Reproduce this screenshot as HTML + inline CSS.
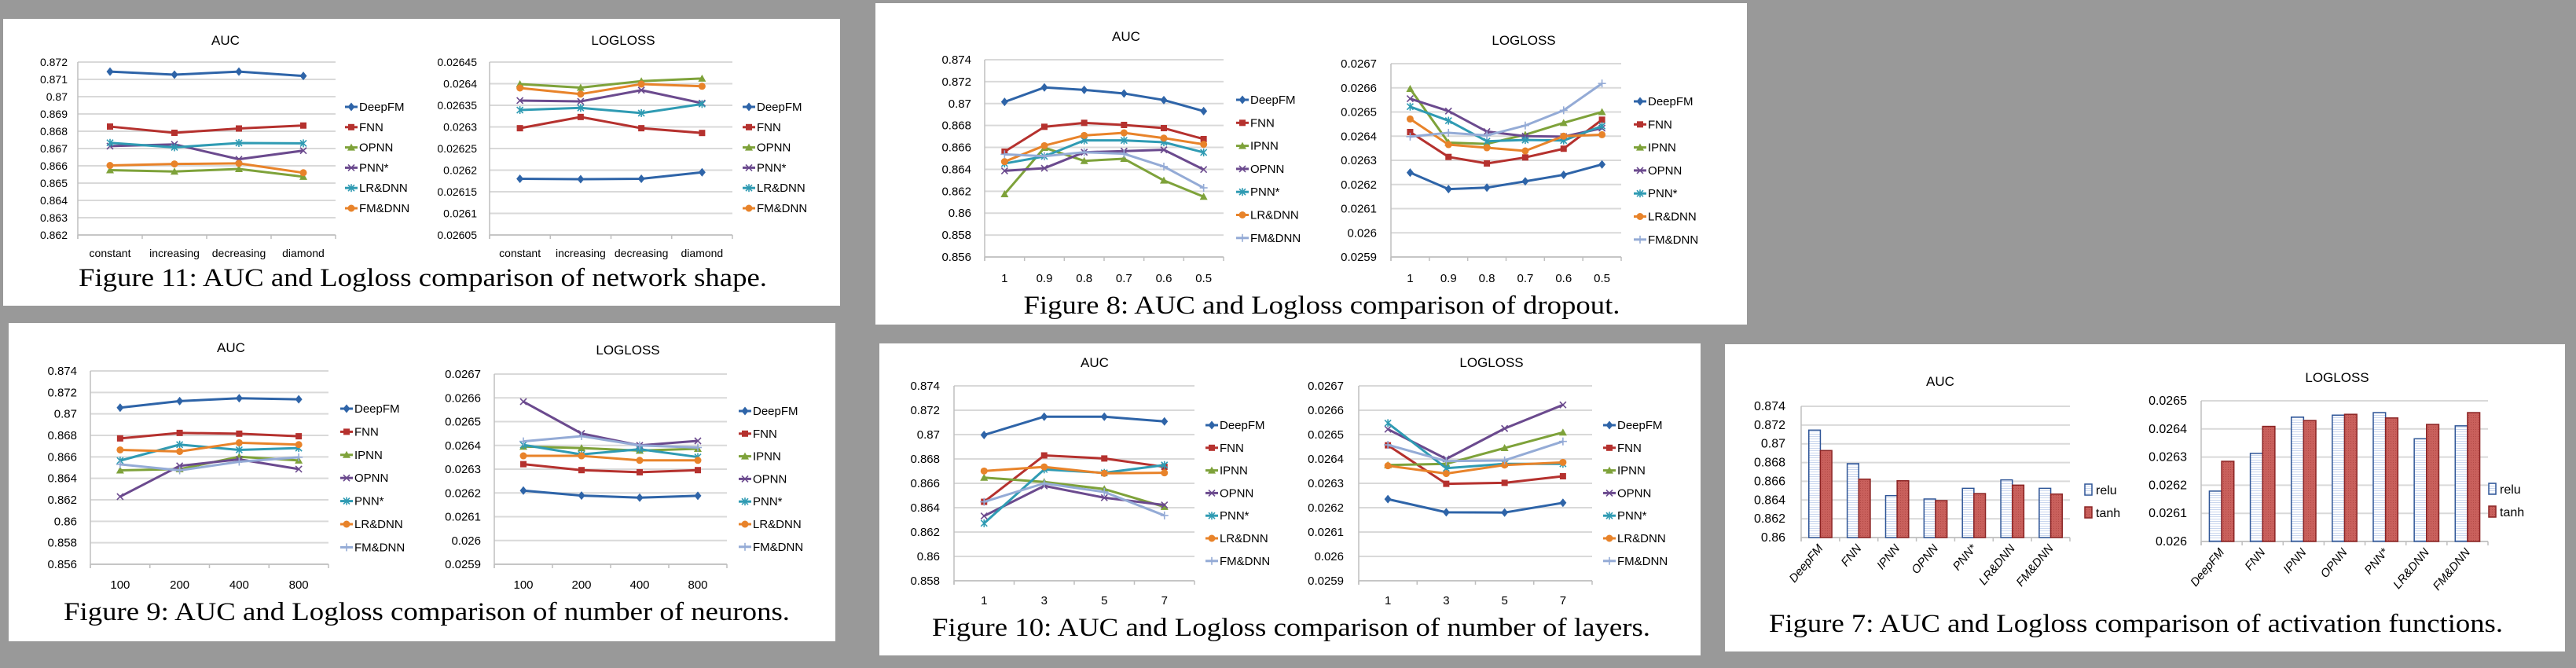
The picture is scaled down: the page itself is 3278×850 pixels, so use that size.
<!DOCTYPE html>
<html><head><meta charset="utf-8"><style>
html,body{margin:0;padding:0;background:#999;}
svg{display:block;}
text{font-family:"Liberation Sans",sans-serif;}
.cap{font-family:"Liberation Serif",serif;font-size:33px;fill:#000;}
</style></head><body>
<svg id="c" width="3278" height="850" viewBox="0 0 3278 850" xmlns="http://www.w3.org/2000/svg">
<defs>
<pattern id="stripes" width="4" height="3" patternUnits="userSpaceOnUse"><rect width="4" height="3" fill="#fff"/><rect width="4" height="1" fill="#c9d6ee"/></pattern>
<pattern id="tanhfill" width="3" height="3" patternUnits="userSpaceOnUse"><rect width="3" height="3" fill="#c9605c"/><rect width="1" height="1" fill="#b24a47"/></pattern>
</defs>
</svg>
<script>
// ---------- Figure 11 (network shape) ----------
const f11Cats=["constant","increasing","decreasing","diamond"];
const f11Names=["DeepFM","FNN","OPNN","PNN*","LR&DNN","FM&DNN"];
const f11AucTicks=[0.872,0.871,0.87,0.869,0.868,0.867,0.866,0.865,0.864,0.863,0.862];
const f11AucDeepFM=[0.87145,0.87127,0.87145,0.8712];
const f11AucFNN=[0.86827,0.86791,0.86816,0.86833];
const f11AucOPNN=[0.86575,0.86567,0.86582,0.86537];
const f11AucPNN=[0.86714,0.86724,0.86638,0.86688];
const f11AucLR=[0.86733,0.86707,0.86732,0.8673];
const f11AucFM=[0.86602,0.86611,0.86614,0.8656];
const f11LLTicks=[0.02645,0.0264,0.02635,0.0263,0.02625,0.0262,0.02615,0.0261,0.02605];
const f11LLDeepFM=[0.02618,0.026179,0.02618,0.026195];
const f11LLFNN=[0.026297,0.026323,0.026297,0.026286];
const f11LLOPNN=[0.026399,0.026391,0.026406,0.026412];
const f11LLPNN=[0.026361,0.026359,0.026385,0.026355];
const f11LLLR=[0.026339,0.026344,0.026332,0.026353];
const f11LLFM=[0.02639,0.026376,0.026399,0.026394];
// ---------- Figure 8 (dropout) ----------
const f8Cats=["1","0.9","0.8","0.7","0.6","0.5"];
const f8Names=["DeepFM","FNN","IPNN","OPNN","PNN*","LR&DNN","FM&DNN"];
const f8AucTicks=[0.874,0.872,0.87,0.868,0.866,0.864,0.862,0.86,0.858,0.856];
const f8AucDeepFM=[0.87015,0.87147,0.87125,0.87092,0.87032,0.86931];
const f8AucFNN=[0.86561,0.86788,0.86824,0.86805,0.86776,0.86676];
const f8AucIPNN=[0.86174,0.86597,0.86477,0.86496,0.86298,0.8615];
const f8AucOPNN=[0.86386,0.8641,0.86556,0.86566,0.86578,0.86398];
const f8AucPNN=[0.86453,0.86518,0.86664,0.86664,0.86647,0.86554];
const f8AucLR=[0.8647,0.86616,0.86709,0.86733,0.86685,0.86628];
const f8AucFM=[0.86537,0.8652,0.86556,0.86542,0.86425,0.86231];
const f8LLTicks=[0.0267,0.0266,0.0265,0.0264,0.0263,0.0262,0.0261,0.026,0.0259];
const f8LLDeepFM=[0.026249,0.026181,0.026187,0.026213,0.02624,0.026283];
const f8LLFNN=[0.026417,0.026314,0.026287,0.026312,0.026348,0.026468];
const f8LLIPNN=[0.026596,0.026373,0.026368,0.026406,0.026455,0.0265];
const f8LLOPNN=[0.026555,0.026504,0.026419,0.0264,0.026398,0.026433];
const f8LLPNN=[0.026522,0.026464,0.026379,0.026384,0.026382,0.026442];
const f8LLLR=[0.026471,0.026365,0.026352,0.026339,0.0264,0.026406];
const f8LLFM=[0.026398,0.026414,0.026403,0.026444,0.026507,0.026618];
// ---------- Figure 9 (neurons) ----------
const f9Cats=["100","200","400","800"];
const f9AucTicks=[0.874,0.872,0.87,0.868,0.866,0.864,0.862,0.86,0.858,0.856];
const f9AucDeepFM=[0.87058,0.87119,0.87146,0.87136];
const f9AucFNN=[0.86772,0.86823,0.86816,0.86792];
const f9AucIPNN=[0.86474,0.86486,0.86601,0.86567];
const f9AucOPNN=[0.8623,0.86516,0.86577,0.86486];
const f9AucPNN=[0.86565,0.86714,0.86665,0.86682];
const f9AucLR=[0.86665,0.8665,0.86731,0.86714];
const f9AucFM=[0.8653,0.86474,0.86555,0.86596];
const f9LLTicks=[0.0267,0.0266,0.0265,0.0264,0.0263,0.0262,0.0261,0.026,0.0259];
const f9LLDeepFM=[0.02621,0.026189,0.02618,0.026188];
const f9LLFNN=[0.026321,0.026296,0.026287,0.026296];
const f9LLIPNN=[0.026395,0.026389,0.026378,0.026386];
const f9LLOPNN=[0.026584,0.02645,0.0264,0.026419];
const f9LLPNN=[0.026402,0.026362,0.026384,0.026351];
const f9LLLR=[0.026356,0.026356,0.026337,0.026337];
const f9LLFM=[0.026417,0.026439,0.0264,0.026391];
// ---------- Figure 10 (layers) ----------
const f10Cats=["1","3","5","7"];
const f10AucTicks=[0.874,0.872,0.87,0.868,0.866,0.864,0.862,0.86,0.858];
const f10AucDeepFM=[0.86997,0.87147,0.87147,0.87108];
const f10AucFNN=[0.86448,0.86829,0.86804,0.86735];
const f10AucIPNN=[0.86647,0.86611,0.86553,0.86407];
const f10AucOPNN=[0.86332,0.86579,0.86482,0.86422];
const f10AucPNN=[0.86272,0.86714,0.86686,0.8675];
const f10AucLR=[0.86701,0.86735,0.86682,0.86686];
const f10AucFM=[0.86448,0.866,0.86529,0.86336];
const f10LLTicks=[0.0267,0.0266,0.0265,0.0264,0.0263,0.0262,0.0261,0.026,0.0259];
const f10LLDeepFM=[0.026235,0.026181,0.02618,0.02622];
const f10LLFNN=[0.026456,0.026298,0.026302,0.026329];
const f10LLIPNN=[0.026375,0.02638,0.026445,0.026509];
const f10LLOPNN=[0.026522,0.0264,0.026525,0.026622];
const f10LLPNN=[0.026547,0.026362,0.02638,0.02638];
const f10LLLR=[0.026372,0.02634,0.026375,0.026386];
const f10LLFM=[0.026458,0.026391,0.026394,0.026472];
// ---------- Figure 7 (activation) ----------
const f7Cats=["DeepFM","FNN","IPNN","OPNN","PNN*","LR&DNN","FM&DNN"];
const f7AucTicks=[0.874,0.872,0.87,0.868,0.866,0.864,0.862,0.86];
const f7AucRelu=[0.87146,0.86788,0.86447,0.86411,0.86525,0.86615,0.86525];
const f7AucTanh=[0.86928,0.86623,0.86606,0.86394,0.86469,0.86559,0.86464];
const f7LLTicks=[0.0265,0.0264,0.0263,0.0262,0.0261,0.026];
const f7LLRelu=[0.026179,0.026313,0.026442,0.026449,0.026458,0.026365,0.026411];
const f7LLTanh=[0.026285,0.026409,0.02643,0.026452,0.026439,0.026416,0.026458];

const NS="http://www.w3.org/2000/svg";
const svg=document.getElementById('c');
const COLORS=['#2e64a8','#b5312e','#7ea23a','#6b4a8e','#2f9bb3','#e8832a','#94abd6'];
const MARKS6=['diamond','square','triangle','x','asterisk','circle'];
const MARKS7=['diamond','square','triangle','x','asterisk','circle','plus'];
function mk(tag,attrs,parent){const e=document.createElementNS(NS,tag);for(const k in attrs)e.setAttribute(k,attrs[k]);(parent||svg).appendChild(e);return e;}
function txt(s,x,y,attrs,parent){const t=mk('text',Object.assign({x:x,y:y},attrs),parent);t.textContent=s;return t;}
function marker(type,x,y,c,g){
  const s=4.5;let m;
  if(type==='diamond')m=mk('polygon',{points:`${x},${y-s-1} ${x+s},${y} ${x},${y+s+1} ${x-s},${y}`,fill:c},g);
  else if(type==='square')m=mk('rect',{x:x-4,y:y-4,width:8,height:8,fill:c},g);
  else if(type==='triangle')m=mk('polygon',{points:`${x},${y-5} ${x+5},${y+4} ${x-5},${y+4}`,fill:c},g);
  else if(type==='circle')m=mk('circle',{cx:x,cy:y,r:4.5,fill:c},g);
  else{
    m=mk('g',{stroke:c,'stroke-width':1.6},g);
    if(type==='x'||type==='asterisk'){mk('line',{x1:x-4,y1:y-4,x2:x+4,y2:y+4},m);mk('line',{x1:x-4,y1:y+4,x2:x+4,y2:y-4},m);}
    if(type==='asterisk')mk('line',{x1:x,y1:y-5,x2:x,y2:y+5},m);
    if(type==='plus'){mk('line',{x1:x-5,y1:y,x2:x+5,y2:y},m);mk('line',{x1:x,y1:y-5,x2:x,y2:y+5},m);}
  }
  
  
  return m;
}
function panel(name,x0,y0,x1,y1,cap,cx,cy,cw){
  const r=mk('rect',{x:x0,y:y0,width:x1-x0,height:y1-y0,fill:'#fff'});
  
  
  const t=txt(cap,cx,cy,{class:'cap','text-anchor':'middle',textLength:cw,lengthAdjust:'spacingAndGlyphs'});
  
  
}
function axes(name,c,n){
  const g=mk('g',{});
  
  
  const vmax=Math.max(...c.ticks),vmin=Math.min(...c.ticks);
  const ys=v=>c.yBot-(v-vmin)/(vmax-vmin)*(c.yBot-c.yTop);
  const band=(c.x1-c.x0)/n;
  const xs=i=>c.x0+band*(i+0.5);
  const t=txt(c.title,c.titleX,c.titleY,{'font-size':17,'text-anchor':'middle',fill:'#000'},g);
  
  
  c.ticks.forEach(v=>{
    const y=ys(v);
    const gl=mk('line',{x1:c.x0,y1:y,x2:c.x1,y2:y,stroke:'#d9d9d9','stroke-width':2},g);
    
    
    const tl=txt(String(v),c.labelRight,y+5,{'font-size':c.tfs||15,'text-anchor':'end',fill:'#000'},g);
    
    
  });
  const ax=mk('line',{x1:c.x0,y1:c.yTop,x2:c.x0,y2:c.yBot+5,stroke:'#bfbfbf','stroke-width':1.5},g);
  
  
  const bx=mk('line',{x1:c.x0,y1:c.yBot,x2:c.x1,y2:c.yBot,stroke:'#bfbfbf','stroke-width':1.5},g);
  
  
  for(let i=0;i<=n;i++){mk('line',{x1:c.x0+band*i,y1:c.yBot,x2:c.x0+band*i,y2:c.yBot+5,stroke:'#bfbfbf','stroke-width':1.5},g);}
  return {g,ys,xs,band};
}
function lineChart(name,c){
  const n=c.cats.length;
  const {g,ys,xs}=axes(name,c,n);
  c.cats.forEach((s,i)=>{
    const l=txt(s,xs(i),c.xLabelY,{'font-size':c.xfs||15,'text-anchor':'middle',fill:'#000'},g);
    
    
  });
  const marks=c.series.length===6?MARKS6:MARKS7;
  c.series.forEach((arr,k)=>{
    const sg=mk('g',{},g);
    
    
    const pts=arr.map((v,i)=>xs(i)+','+ys(v)).join(' ');
    const pl=mk('polyline',{points:pts,fill:'none',stroke:COLORS[k],'stroke-width':3,'stroke-linejoin':'round'},sg);
    
    
    arr.forEach((v,i)=>marker(marks[k],xs(i),ys(v),COLORS[k],sg));
    const ly=c.legY0+c.legStep*k;
    const lg=mk('g',{},g);
    
    
    mk('line',{x1:c.legX,y1:ly,x2:c.legX+16,y2:ly,stroke:COLORS[k],'stroke-width':3},lg);
    marker(marks[k],c.legX+8,ly,COLORS[k],lg);
    txt(c.names[k],c.legX+18,ly+5,{'font-size':15,fill:'#000'},lg);
  });
}
function barChart(name,c){
  const n=c.cats.length;
  const {g,ys,xs,band}=axes(name,c,n);
  const bw=band*0.3,off=band*0.2;
  const yb=ys(Math.min(...c.ticks));
  [c.relu,c.tanh].forEach((arr,k)=>{
    arr.forEach((v,i)=>{
      const x=c.x0+band*i+off+k*bw;
      const r=mk('rect',{x:x,y:ys(v),width:bw,height:yb-ys(v),fill:k?'url(#tanhfill)':'url(#stripes)',stroke:k?'#8b2424':'#2e5597','stroke-width':1.5},g);
      
      
    });
  });
  c.cats.forEach((s,i)=>{
    const x=xs(i)+4,y=c.yBot+14;
    const l=txt(s,x,y,{'font-size':15,'font-style':'italic','text-anchor':'end',transform:`rotate(-50 ${x} ${y})`,fill:'#000'},g);
    
    
  });
  ['relu','tanh'].forEach((s,k)=>{
    const ly=c.legY0+k*29;
    const lg=mk('g',{},g);
    
    
    mk('rect',{x:c.legX,y:ly-7,width:9,height:14,fill:k?'url(#tanhfill)':'url(#stripes)',stroke:k?'#8b2424':'#2e5597','stroke-width':1.5},lg);
    txt(s,c.legX+14,ly+6,{'font-size':16,fill:'#000'},lg);
  });
}

// panels
panel('figure-11',4,24,1069,389,'Figure 11: AUC and Logloss comparison of network shape.',538,364,876);
panel('figure-8',1114,4,2223,413,'Figure 8: AUC and Logloss comparison of dropout.',1682,399,759);
panel('figure-9',11,411,1063,816,'Figure 9: AUC and Logloss comparison of number of neurons.',543,789,924);
panel('figure-10',1119,437,2164,834,'Figure 10: AUC and Logloss comparison of number of layers.',1643,809,914);
panel('figure-7',2195,438,3264,829,'Figure 7: AUC and Logloss comparison of activation functions.',2718,804,934);

lineChart('fig11-auc-chart',{x0:99,x1:427,yTop:79,yBot:299,ticks:f11AucTicks,cats:f11Cats,names:f11Names,
  series:[f11AucDeepFM,f11AucFNN,f11AucOPNN,f11AucPNN,f11AucLR,f11AucFM],title:'AUC',titleX:287,titleY:57,
  labelRight:86,xLabelY:327,xfs:14,legX:439,legY0:136,legStep:25.8,tfs:14});
lineChart('fig11-logloss-chart',{x0:623,x1:932,yTop:79,yBot:299,ticks:f11LLTicks,cats:f11Cats,names:f11Names,
  series:[f11LLDeepFM,f11LLFNN,f11LLOPNN,f11LLPNN,f11LLLR,f11LLFM],title:'LOGLOSS',titleX:793,titleY:57,
  labelRight:607,xLabelY:327,xfs:14,legX:945,legY0:136,legStep:25.8,tfs:14});
lineChart('fig8-auc-chart',{x0:1253,x1:1557,yTop:76,yBot:327,ticks:f8AucTicks,cats:f8Cats,names:f8Names,
  series:[f8AucDeepFM,f8AucFNN,f8AucIPNN,f8AucOPNN,f8AucPNN,f8AucLR,f8AucFM],title:'AUC',titleX:1433,titleY:52,
  labelRight:1236,xLabelY:359,legX:1573,legY0:127,legStep:29.3});
lineChart('fig8-logloss-chart',{x0:1770,x1:2063,yTop:81,yBot:327,ticks:f8LLTicks,cats:f8Cats,names:f8Names,
  series:[f8LLDeepFM,f8LLFNN,f8LLIPNN,f8LLOPNN,f8LLPNN,f8LLLR,f8LLFM],title:'LOGLOSS',titleX:1939,titleY:57,
  labelRight:1752,xLabelY:359,legX:2079,legY0:129,legStep:29.3});
lineChart('fig9-auc-chart',{x0:115,x1:418,yTop:472,yBot:718,ticks:f9AucTicks,cats:f9Cats,names:f8Names,
  series:[f9AucDeepFM,f9AucFNN,f9AucIPNN,f9AucOPNN,f9AucPNN,f9AucLR,f9AucFM],title:'AUC',titleX:294,titleY:448,
  labelRight:98,xLabelY:749,legX:433,legY0:520,legStep:29.4});
lineChart('fig9-logloss-chart',{x0:629,x1:925,yTop:476,yBot:718,ticks:f9LLTicks,cats:f9Cats,names:f8Names,
  series:[f9LLDeepFM,f9LLFNN,f9LLIPNN,f9LLOPNN,f9LLPNN,f9LLLR,f9LLFM],title:'LOGLOSS',titleX:799,titleY:451,
  labelRight:612,xLabelY:749,legX:940,legY0:523,legStep:28.8});
lineChart('fig10-auc-chart',{x0:1214,x1:1520,yTop:491,yBot:739,ticks:f10AucTicks,cats:f10Cats,names:f8Names,
  series:[f10AucDeepFM,f10AucFNN,f10AucIPNN,f10AucOPNN,f10AucPNN,f10AucLR,f10AucFM],title:'AUC',titleX:1393,titleY:467,
  labelRight:1196,xLabelY:769,legX:1534,legY0:541,legStep:28.8});
lineChart('fig10-logloss-chart',{x0:1729,x1:2026,yTop:491,yBot:739,ticks:f10LLTicks,cats:f10Cats,names:f8Names,
  series:[f10LLDeepFM,f10LLFNN,f10LLIPNN,f10LLOPNN,f10LLPNN,f10LLLR,f10LLFM],title:'LOGLOSS',titleX:1898,titleY:467,
  labelRight:1710,xLabelY:769,legX:2040,legY0:541,legStep:28.8});
barChart('fig7-auc-chart',{x0:2292,x1:2634,yTop:517,yBot:684,ticks:f7AucTicks,cats:f7Cats,relu:f7AucRelu,tanh:f7AucTanh,
  title:'AUC',titleX:2469,titleY:491,labelRight:2272,legX:2653,legY0:623,tfs:16});
barChart('fig7-logloss-chart',{x0:2801,x1:3166,yTop:510,yBot:689,ticks:f7LLTicks,cats:f7Cats,relu:f7LLRelu,tanh:f7LLTanh,
  title:'LOGLOSS',titleX:2974,titleY:486,labelRight:2783,legX:3167,legY0:622,tfs:16});
</script>
</body></html>
